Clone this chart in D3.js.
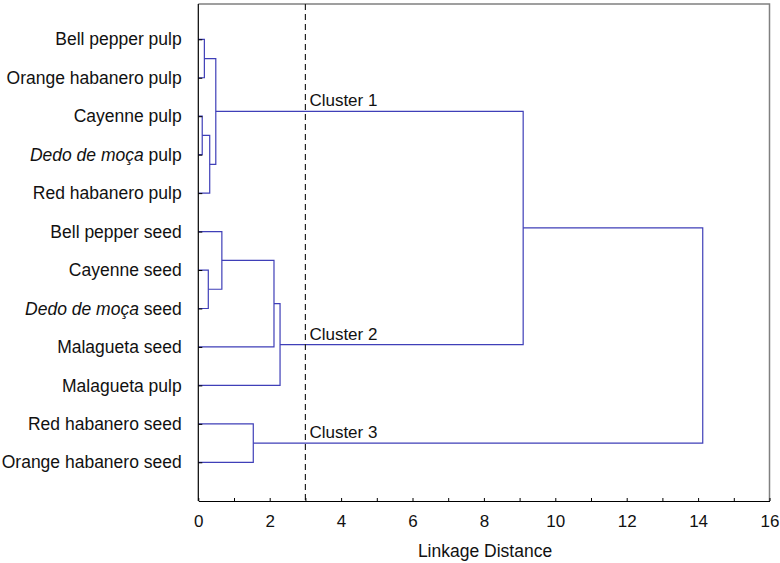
<!DOCTYPE html>
<html>
<head>
<meta charset="utf-8">
<script src="https://cdn.jsdelivr.net/npm/d3@7"></script>
<style>
  body { margin: 0; background: #fff; }
  text { font-family: "Liberation Sans", Arial, Helvetica, sans-serif; fill: #111; }
</style>
</head>
<body>
<svg width="780" height="563"></svg>
<script>
"use strict";

// leaf order top to bottom
var leaves = ["Bell pepper pulp", "Orange habanero pulp", "Cayenne pulp", "Dedo de moça pulp",
	"Red habanero pulp", "Bell pepper seed", "Cayenne seed", "Dedo de moça seed",
	"Malagueta seed", "Malagueta pulp", "Red habanero seed", "Orange habanero seed"];

// merges: [childA, childB, linkage distance]; node ids continue after leaves (12, 13, ...)
var merges = [
	[0, 1, 0.17],
	[2, 3, 0.11],
	[13, 4, 0.32],
	[12, 14, 0.49],
	[6, 7, 0.28],
	[5, 16, 0.66],
	[17, 8, 2.12],
	[18, 9, 2.29],
	[10, 11, 1.54],
	[15, 19, 9.10],
	[21, 20, 14.13]
];

var cutoff = 3;
var clusterNames = ["Cluster 1", "Cluster 2", "Cluster 3"];
var clusterNodes = [15, 19, 20];
var xTicks = d3.range(0, 17);

function dataViz(){
	var svg = d3.select("svg");
	var left = 198.3, right = 769.5, top = 4, bottom = 501;

	var xScale = d3.scaleLinear().domain([0, 16]).range([left, right]);
	var yScale = d3.scalePoint().domain(leaves).range([39.3, 462.3]);

	// node positions
	var nodes = leaves.map(function(d){ return {y: yScale(d), h: 0}; });
	merges.forEach(function(m){
		nodes.push({y: (nodes[m[0]].y + nodes[m[1]].y) / 2, h: m[2]});
	});

	// frame: top and right in gray
	svg.append("path")
		.attr("d", "M" + left + "," + top + "H" + right + "V" + bottom)
		.attr("fill", "none")
		.attr("stroke", "#808080")
		.attr("stroke-width", 1.5);

	// dendrogram links
	var g = svg.append("g").attr("fill", "none").attr("stroke", "#3f3fb8").attr("stroke-width", 1.2);
	merges.forEach(function(m){
		var a = nodes[m[0]], b = nodes[m[1]];
		var p = d3.path();
		p.moveTo(xScale(a.h), a.y);
		p.lineTo(xScale(m[2]), a.y);
		p.lineTo(xScale(m[2]), b.y);
		p.lineTo(xScale(b.h), b.y);
		g.append("path").attr("d", p.toString());
	});

	// cutoff line
	svg.append("line")
		.attr("x1", xScale(cutoff)).attr("x2", xScale(cutoff))
		.attr("y1", top).attr("y2", bottom)
		.attr("stroke", "#222")
		.attr("stroke-width", 1.2)
		.attr("stroke-dasharray", "6,4");

	// cluster labels
	svg.selectAll("text.cluster")
		.data(clusterNames)
		.enter()
		.append("text")
		.attr("class", "cluster")
		.attr("x", xScale(cutoff) + 4)
		.attr("y", function(d, i){ return nodes[clusterNodes[i]].y - 5; })
		.style("font-size", "17px")
		.text(function(d){ return d; });

	// x axis
	var xAxis = svg.append("g")
		.attr("transform", "translate(0," + bottom + ")")
		.call(d3.axisBottom(xScale).tickValues(xTicks).tickSizeInner(-3).tickSizeOuter(0).tickPadding(14)
			.tickFormat(function(d){ return d % 2 === 0 ? d : ""; }));
	xAxis.select(".domain").attr("stroke", "#000").attr("stroke-width", 1.2);
	xAxis.selectAll("text").style("font-size", "17px").style("font-family", "Liberation Sans, Arial, sans-serif").attr("fill", "#111");

	svg.append("text")
		.attr("x", 485)
		.attr("y", 557)
		.attr("text-anchor", "middle")
		.style("font-size", "17.5px")
		.text("Linkage Distance");

	// y axis
	var yAxis = svg.append("g")
		.attr("transform", "translate(" + left + ",0)")
		.call(d3.axisLeft(yScale).tickSizeInner(-4).tickSizeOuter(0).tickPadding(16.6));
	yAxis.select(".domain").attr("stroke", "#000").attr("stroke-width", 1.2)
		.attr("d", "M0," + top + "V" + bottom);
	yAxis.selectAll("text")
		.style("font-size", "17.5px")
		.style("font-family", "Liberation Sans, Arial, sans-serif")
		.attr("fill", "#111")
		.each(function(d){
			var t = d3.select(this);
			if (d.indexOf("Dedo de moça") === 0) {
				t.text(null);
				t.append("tspan").style("font-style", "italic").text("Dedo de moça");
				t.append("tspan").text(d.slice("Dedo de moça".length));
			}
		});
}

dataViz();
</script>
</body>
</html>
